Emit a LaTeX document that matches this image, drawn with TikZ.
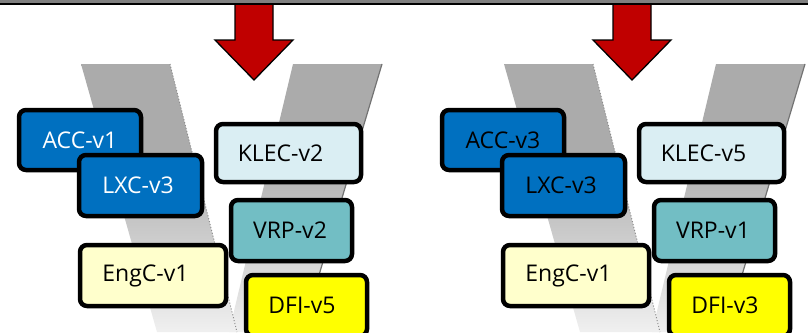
\documentclass[tikz,border=0pt]{standalone}
\usepackage{fontspec}
\setmainfont{Open Sans}
\definecolor{arrowred}{HTML}{C00000}
\definecolor{accblue}{HTML}{0070C0}
\definecolor{klecfill}{HTML}{DAEEF3}
\definecolor{vrpfill}{HTML}{72BEC4}
\definecolor{engfill}{HTML}{FFFFCC}
\definecolor{dfifill}{HTML}{FFFF00}
% vertical fade of the V arms: dark grey on top, almost white at the foot
\pgfdeclareverticalshading{varm}{100bp}{color(0bp)=(black!6); color(25bp)=(black!6);
  color(31bp)=(black!11); color(44bp)=(black!21); color(59bp)=(black!33); color(100bp)=(black!33)}
\tikzset{
  box/.style={draw=black, line width=4.5pt, rounded corners=7pt, inner sep=0pt,
    minimum height=61pt, font=\fontsize{23}{27}\selectfont, text=black},
  armfill/.style={shading=varm},
  % moves the label to the left by half the given amount
  tshift/.style={execute at end node={\hspace*{#1}}},
}
\begin{document}
\begin{tikzpicture}[x=1pt, y=-1pt]
\useasboundingbox (0,0) rectangle (808,332);
\fill[white] (0,0) rectangle (808,332);

% the two V backdrops
\foreach \o in {0,423} {
  \shade[armfill] (\o+293,64) -- (\o+382,64) -- (\o+302,332) -- (\o+229,332) -- cycle;
  \draw[black!55, line width=1.2pt] (\o+382,64) -- (\o+302,332);
  \shade[armfill] (\o+81,64) -- (\o+170,64) -- (\o+237,332) -- (\o+157,332) -- cycle;
  \draw[black!45, line width=1pt, dotted] (\o+170,64) -- (\o+237,332);
}

% downward arrows
\foreach \c in {254,632} {
  \draw[fill=arrowred, line width=1.3pt, line join=miter]
    (\c-19,3.5) -- (\c+19,3.5) -- (\c+19,40) -- (\c+39,40) -- (\c,80)
    -- (\c-39,40) -- (\c-19,40) -- cycle;
}

% header strip
\fill[black!50] (0,0) rectangle (808,3);
\draw[line width=2pt] (0,4) -- (808,4);

% left configuration
\node[box, fill=accblue, text=white, minimum width=122pt, minimum height=60pt] (accA) at (80,140) {ACC-v1};
\node[box, fill=accblue, text=white, minimum width=123pt, tshift=5pt] (lxcA) at (140.5,185.5) {LXC-v3};
\node[box, fill=klecfill, minimum width=145pt, minimum height=58pt, tshift=16pt] (klecA) at (288.5,153) {KLEC-v2};
\node[box, fill=vrpfill, minimum width=121pt, tshift=3pt] (vrpA) at (291.5,230.5) {VRP-v2};
\node[box, fill=engfill, minimum width=146pt, tshift=15pt] (engA) at (153,275.5) {EngC-v1};
\node[box, fill=dfifill, minimum width=121pt, tshift=9pt] (dfiA) at (306.5,305.5) {DFI-v5};

% right configuration
\node[box, fill=accblue, minimum width=122pt, minimum height=60pt] (accB) at (503,140) {ACC-v3};
\node[box, fill=accblue, minimum width=123pt, tshift=5pt] (lxcB) at (563.5,185.5) {LXC-v3};
\node[box, fill=klecfill, minimum width=145pt, minimum height=58pt, tshift=16pt] (klecB) at (711.5,153) {KLEC-v5};
\node[box, fill=vrpfill, minimum width=121pt, tshift=3pt] (vrpB) at (714.5,230.5) {VRP-v1};
\node[box, fill=engfill, minimum width=146pt, tshift=15pt] (engB) at (576,275.5) {EngC-v1};
\node[box, fill=dfifill, minimum width=121pt, tshift=9pt] (dfiB) at (729.5,305.5) {DFI-v3};
\end{tikzpicture}
\end{document}
